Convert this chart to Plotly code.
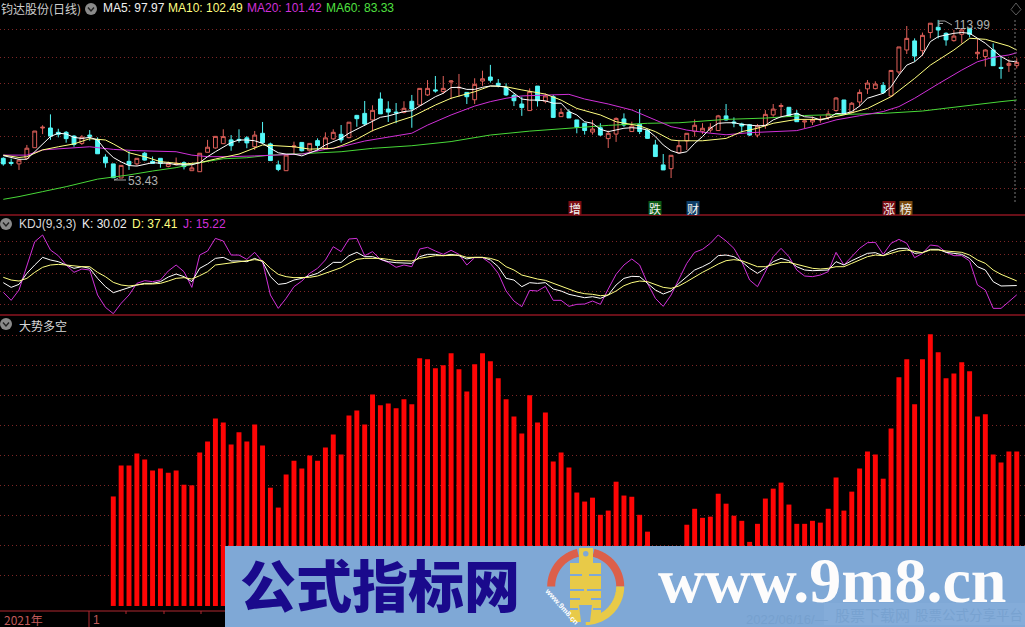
import math
import plotly.graph_objects as go

# ---------- price panel ----------
open_read = [61.3,59.7,59.1,61.3,65.5,73.3,73.3,71.6,71.6,70.1,
67.2,70.5,68.8,61.8,59.1,53.5,60.1,59.1,63.3,60.1,
61.3,58.1,58.8,59.6,56.4,56,63.7,65.4,67.1,68.6,
68.8,69.4,65.9,71.2,67,58.7,56.4,65.8,67.6,64.3,
68.3,65.3,69,70.8,69.5,78.3,79.1,76.5,84.8,80.8,
79.6,79.5,83.9,82.4,86.4,88.4,87.7,91.5,89.2,87.4,
84.5,91.9,93.5,91,89.3,86.2,82.8,80.2,89.9,83.9,
85.7,77.8,79.6,76.5,75.2,71.7,73.4,69.1,70.9,76.9,
71.9,74.8,72.3,66.6,58.7,57.2,63.5,68.2,72,72,
72.5,72.3,78.1,75.7,74.9,74.6,70.5,74.4,78.5,81.8,
81.5,79.1,75.7,75.7,76.5,77.5,80.2,84.4,79.4,83.6,
88.8,88.9,90.2,86,95.5,104.2,107.8,103.9,111.1,113.2,
110.8,107.9,110.4,112.8,102.7,101.6,104.2,97.3,98.1,98]
close_read = [59.1,59.3,60.6,65.3,72.1,73.6,70.1,70.8,69.1,66.8,
69.7,70,63.1,59.5,53.6,58.5,58.8,61.3,60.6,59.3,
59.3,59.3,59.3,58,57.5,63.3,65.7,70,69.9,66.3,
68.4,67.4,70.5,67.5,60.4,56.9,62.6,66.2,64.3,67.2,
66.4,69.4,71.6,68.6,75.6,77,74.9,80.3,78.9,79.6,
79.3,81.1,80.8,89,89,88,89,91.9,89.4,85.7,
90.6,92.8,92.2,90.2,86.4,84.1,81.4,87.7,84.1,86,
77.5,79.5,77.3,73.6,72.3,72.9,70.5,71.2,77.1,74.5,
74.1,71.9,69.2,62,56.7,62.5,66.3,71.2,74.4,73.2,
73.6,78.1,76.5,75.3,74.1,70.5,74.1,78.7,80.8,82.2,
78.1,75.8,76.1,76.7,76.7,78.9,85.2,79.1,83.1,87.4,
91.1,90.7,87.3,96.1,105.4,108.8,101.8,110,114.8,112.1,
108.2,109.7,112.1,110.4,103.3,104.2,98,96.9,98.9,99.3]
high_read = [61.7,61.2,60.9,66.6,72.1,74.4,78.7,73,72.1,70.5,
70.5,72.5,69.6,62.9,59.1,58.5,64.1,61.3,63.8,62,
61.3,60,61.6,60.1,58.7,63.3,68.6,70,72.8,70.5,
72.8,70.1,72.1,75.7,67.5,60.4,63,67.9,67.6,67.2,
69.2,71.6,72.8,74.5,75.6,78.5,84,82.3,87.4,83.9,
83.2,83.9,86.4,89,92.3,93.9,93.9,92.3,94.7,87.4,
93,96,98.3,92.7,91,87,85.7,89,89.9,87,
86.4,81.1,80.7,76.5,75.2,76.5,75.2,72.3,77.5,79.1,
75.8,80.8,72.8,68.6,63,62.5,68.6,71.2,76.7,75.2,
75.2,78.5,82.8,77.5,75.4,74.9,74.9,80.4,82.8,83.1,
81.5,80.4,76.2,77.8,78.1,80.2,85.5,84.4,83.6,88.6,
92.3,91.8,91.5,96.1,105.4,113.7,108.8,111.1,114.8,116.1,
111.2,112.1,112.8,112.8,108.8,104.5,106.8,101.6,100.5,100.9]
low_read = [58.4,58.4,56.7,60.9,65.5,70.9,68.6,69.6,67.5,65.9,
66.6,68.3,63.1,57.6,53.5,53.5,56.7,58.3,60.4,59.1,
57.6,57.7,58.5,56.9,56.4,56,63.7,65.1,67,64.3,
67.5,65.3,64.6,67,60.4,56.2,56.4,62.6,64,63.9,
64.3,65,68.6,67.5,69.2,73.8,74.1,71.9,78.9,75.7,
75.2,79.1,73.4,82.2,86,87.3,86.8,84.7,85.7,82.8,
82.8,90,91.3,89.4,86,82,78.1,80.2,81.8,83.1,
77.3,77.8,77.3,71.2,70.7,70.7,70.1,65.4,67.8,73.8,
71.9,70.9,69.1,62,56.7,53.5,63.3,64.6,69.9,70.9,
71.5,72.3,76.2,73.6,71.5,70.1,69.6,73,77.8,77.8,
78.1,75.7,73.2,74.5,75.4,76.5,79.8,78.9,79.1,81.8,
86.8,88.6,86.8,85.7,94.7,102.6,99.6,101.8,108.8,108.8,
105.9,107.5,106.8,109.2,100.5,97.6,97.9,92.8,95.5,96.9]

ma5 = [62.0,61.3,60.6,60.6,63.5,66.7,69.3,70.6,70.3,69.0,68.6,69.0,68.0,64.2,61.3,59.6,58.2,58.0,58.7,59.3,59.1,59.1,58.5,58.4,58.5,59.3,61.6,63.5,65.4,67.0,68.0,68.0,67.7,66.7,64.8,63.1,62.6,62.6,61.9,62.9,64.2,66.1,67.4,
68.6,70.6,72.1,73.7,75.0,76.7,77.2,78.2,78.9,79.2,81.0,82.7,84.6,85.9,88.1,88.2,87.4,87.4,88.2,88.7,88.7,88.2,85.9,83.7,83.3,83.3,83.0,82.1,82.1,78.9,77.6,75.0,74.4,72.1,71.2,71.8,72.5,72.7,72.5,71.8,69.3,66.1,63.9,62.9,
63.5,66.7,69.3,72.5,74.4,74.6,74.6,74.0,73.6,73.4,73.6,75.7,76.9,77.6,78.2,76.9,76.7,75.7,76.3,78.2,78.0,78.9,81.0,84.0,84.9,85.9,88.4,92.9,96.7,98.0,100.6,105.7,107.6,108.3,108.9,109.2,108.9,107.0,105.1,102.5,100.0,98.3,97.97]
ma10_idx = [0,2,3,5,7,9,11,13,14,16,18,20,23,25,27,30,33,35,37,39,42,43,45,47,50,52,55,57,60,62,64,66,69,71,73,76,78,81,83,85,86,89,92,94,96,98,101,104,107,110,113,116,118,121,123,125,128,129]
ma10 = [62.2,61.3,61.6,64.2,65.4,66.5,68.5,68,66.5,63.1,61.6,59.7,58.8,59.3,60.7,62.6,66.1,65.7,65.4,64.5,64.8,65.8,68.3,71.6,75,76.9,81.4,84,86.5,88.7,88.4,87.2,85.6,83.3,80.1,77.6,75,73.4,71.2,68,67.7,67.7,68.6,71.2,72.5,74.4,75.9,75.9,77.6,80.1,84.6,91.6,96.7,102.5,107,106.6,104,102.49]
ma20_idx = [0,3,5,8,11,14,17,22,24,26,29,32,35,38,41,43,46,49,52,54,57,60,62,64,66,69,72,74,77,80,83,85,86,87,90,92,95,98,101,103,106,109,112,114,116,119,122,124,126,128,129]
ma20 = [62.2,62.2,64.2,64.8,65.4,64.4,63.9,63.5,62.2,61.6,61.6,61.9,62.2,62.6,64.4,65.4,67.6,69.0,70.6,73.7,77.6,81.0,82.7,84.0,84.9,85.2,85.5,83.7,81.8,79.5,75.7,73.1,72.5,71.8,70.6,70.0,70.8,71.3,71.6,73.1,75.7,77.3,78.9,80.8,84.0,89.5,94.8,98.0,99.7,100.6,101.42]
ma60_idx = [0,2,5,8,12,14,16,19,22,25,28,31,34,37,40,43,47,52,57,62,67,72,77,82,86,92,97,102,107,112,117,122,127,129]
ma60 = [45.25,46.3,48.2,50.1,53.0,53.7,54.6,56.1,57.4,59.3,60.8,61.2,62.2,62.6,63.1,63.5,64.8,65.8,67.4,69.9,71.4,72.5,73.6,74.4,74.6,75.9,76.4,77.4,77.8,78.2,79.1,81.0,82.7,83.33]

# ---------- KDJ panel ----------
kdj_k = [34.6,27.1,31.9,49.5,62.8,75,70.8,68.1,62.8,57.5,60.1,57.5,41.5,28.2,18.6,22.9,26.6,30.9,33.5,33.5,36.2,43.6,48.4,44.2,36.2,57.5,64.4,73.4,75,69.2,69.2,68.1,73.4,68.1,44.2,31.9,33.5,38.8,41.5,45.2,49.5,57.5,67,67,77.7,83,76.1,76.1,71.8,68.1,66.5,66.5,65.4,76.1,79.8,79.8,77.7,79.8,77.7,72.4,75,75,70.8,60.1,41.5,
38.8,28.2,34.6,33.5,34.6,24.5,21.3,16,13.3,10.6,12.2,9.6,14.9,30.9,41.5,44.7,44.2,33.5,22.9,16.5,21.3,33.5,44.2,54.8,60.1,66.5,77.7,78.7,76.1,68.1,57.5,49.5,57.5,68.1,73.4,69.7,60.1,54.8,53.7,53.7,54.8,68.1,62.8,69.7,76.1,81.4,82.5,77.7,85.1,89.4,89.4,81.4,82.5,87.8,87.8,83,81.4,79.8,73.4,60.1,54.8,36.2,29.3,29.3,30.02]
kdj_d = [43.1,38.8,37.2,41.5,51.1,59.1,62.8,63.8,62.8,61.2,60.1,60.1,51.1,44.2,35.1,30.9,29.3,30.9,32.5,32.5,33.5,37.2,41.5,42.6,40.4,45.8,52.1,62.8,64.4,66.5,68.1,69.7,71.3,69.7,57.5,47.9,44.2,42.6,42.6,43.1,45.2,49.5,54.8,58.5,65.4,71.8,73.4,73.4,73.4,71.8,69.7,69.7,69.2,73.4,76.1,77.7,77.7,78.7,78.7,75,75,75,73.4,69.7,60.1,
54.8,46.8,43.1,40.4,38.3,33.5,29.8,24.5,19.7,17,16,13.8,14.9,21.3,29.8,34.6,37.2,36.2,31.9,27.1,25.5,29.3,36.2,44.2,51.1,57.5,64.4,69.7,71.3,69.7,64.4,60.1,60.1,63.8,67,67,63.8,60.1,57.5,56.4,57.5,60.1,60.1,65.4,70.8,76.1,78.7,77.7,81.4,85.1,86.7,84.1,82.5,86.7,86.7,85.1,84.1,83,78.7,70.8,65.4,54.8,47.9,42.6,37.41]
kdj_j = [19.2,6.4,22.9,60.1,100,110.7,86.7,77.7,62.8,51.1,56.4,54.8,14.9,-4.8,-14.9,1.6,14.9,33.5,37.8,36.2,38.8,53.2,62.8,52.1,27.1,78.7,85.1,105.3,101.1,78.7,78.7,71.8,83,68.1,14.9,-6.4,9.6,28.2,37.2,49.5,57.5,70.8,92,84.1,104.3,105.3,77.7,84.1,71.8,67,59.1,62.8,60.1,88.3,91,85.1,79.8,86.2,79.8,62.8,74.5,74.5,65.4,49.5,21.3,
5.3,-3.7,22.3,21.3,28.7,6.4,6.4,-3.2,0,0.5,5.3,0,24.5,47.9,62.8,72.4,62.8,33.5,9.6,-3.2,14.9,41.5,65.4,83,87.8,97.4,110.7,101.1,89.4,68.1,38.8,28.2,52.1,76.1,89.4,76.1,54.8,45.2,44.2,46.8,52.1,83,62.8,76.1,89.4,98.4,99,79.8,97.4,103.7,97.4,74.5,81.4,94.7,93.1,83,77.7,77.7,69.2,30.9,22.9,-6.4,-6.4,4.3,15.22]

# ---------- long/short strength bars, starting at candle 14 ----------
strength = [36.4,46.7,46.7,50.7,48.7,45,45.7,44.3,45,40.3,40.1,51,54.7,62.3,61,53.7,57.7,54.7,60.3,53.3,39.3,32.7,43.7,48.3,45.7,50,48.3,52.7,57,50.3,63.3,65,60.3,70.3,66.7,67.3,65.7,68.7,67,82.3,82,79,80,84,78.7,71.3,80.3,84,81.3,75.7,68.7,
63,57.3,70,61,64.3,48,51,46,37.7,34.7,36,30.3,31.7,41.3,36.7,36.3,30.3,24.7,None,None,None,None,27,32.3,29.3,29.7,37.3,34,30,28.3,21.3,27.3,35.7,39,41,33.7,27.3,27.3,28.3,27.7,32.3,42.7,31.7,38,45.7,51.3,50.3,42.3,59,76,82,67,82,90.3,84.3,75.7,77.3,81,78,63,63.7,50.3,47.7,51.3,51.3]

price_grid = [110.2, 99.7, 89.7, 79.7, 69.5, 59.4, 49.5]
kdj_grid = [100, 80, 50, 20, 0]
strength_grid = [90, 80, 70, 60, 50, 40, 30, 20, 10]

# the first reading scale of the candle arrays is re-based onto the labelled price scale
rebase = lambda vals: [round(1.62 + 0.9682 * v, 2) for v in vals]
open_, high, low, close = map(rebase, (open_read, high_read, low_read, close_read))
idx = list(range(len(close)))
assert all(len(a) == 130 for a in (open_, high, low, close, ma5, kdj_k, kdj_d, kdj_j))
assert len(ma10) == len(ma10_idx) and len(ma20) == len(ma20_idx) and len(ma60) == len(ma60_idx)
assert len(strength) == 116

W, H = 1025, 627
BG = "#000000"
SEP = "#8c1420"
GRID = "#7d2626"
WHITE = "#f0f0f0"
YEL = "#ffff80"
MAG = "#d030d8"
GRN = "#50e040"
UP = "#e0605a"
DN = "#54f8f8"
FONT = "Liberation Sans, Noto Sans CJK SC, sans-serif"
CJK = "Noto Sans CJK SC, sans-serif"

fx = lambda x: x / W
fy = lambda y: 1 - y / H

fig = go.Figure()
fig.add_trace(go.Candlestick(x=idx, open=open_, high=high, low=low, close=close, xaxis="x", yaxis="y",
    increasing=dict(line=dict(color=UP, width=1), fillcolor=BG),
    decreasing=dict(line=dict(color=DN, width=1), fillcolor=DN),
    whiskerwidth=0, hoverinfo="skip", showlegend=False))
fig.add_trace(go.Scatter(x=ma60_idx, y=ma60, mode="lines", line=dict(color="#48d838", width=1), xaxis="x", yaxis="y"))
fig.add_trace(go.Scatter(x=ma20_idx, y=ma20, mode="lines", line=dict(color=MAG, width=1), xaxis="x", yaxis="y"))
fig.add_trace(go.Scatter(x=ma10_idx, y=ma10, mode="lines", line=dict(color=YEL, width=1), xaxis="x", yaxis="y"))
fig.add_trace(go.Scatter(x=idx, y=ma5, mode="lines", line=dict(color="#ffffff", width=1), xaxis="x", yaxis="y"))

fig.add_trace(go.Scatter(x=idx, y=kdj_j, mode="lines", line=dict(color=MAG, width=1), xaxis="x2", yaxis="y2"))
fig.add_trace(go.Scatter(x=idx, y=kdj_k, mode="lines", line=dict(color="#ffffff", width=1), xaxis="x2", yaxis="y2"))
fig.add_trace(go.Scatter(x=idx, y=kdj_d, mode="lines", line=dict(color=YEL, width=1), xaxis="x2", yaxis="y2"))

fig.add_trace(go.Bar(x=idx[14:], y=strength, width=0.63, marker=dict(color="#ff0505", line=dict(width=0)),
                     xaxis="x3", yaxis="y3"))

shapes, notes = [], []

def line(x0, y0, x1, y1, color, width=1, dash=None):
    shapes.append(dict(type="line", xref="paper", yref="paper", x0=fx(x0), y0=fy(y0), x1=fx(x1), y1=fy(y1),
                       line=dict(color=color, width=width, dash=dash), layer="above"))

def rect(x0, y0, x1, y1, color):
    shapes.append(dict(type="rect", xref="paper", yref="paper", x0=fx(x0), y0=fy(y0), x1=fx(x1), y1=fy(y1),
                       fillcolor=color, line=dict(width=0), layer="above"))

def path(pts, stroke=None, width=1, fill=None, close=False):
    d = "M " + " L ".join(f"{fx(x):.5f},{fy(y):.5f}" for x, y in pts) + (" Z" if close else "")
    shapes.append(dict(type="path", xref="paper", yref="paper", path=d, layer="above", fillcolor=fill,
                       line=dict(color=stroke, width=width) if stroke else dict(width=0)))

def text(x, y, s, color=WHITE, size=12, anchor="left", font=FONT, **kw):
    notes.append(dict(xref="paper", yref="paper", x=fx(x), y=fy(y), text=s, showarrow=False, xanchor=anchor,
                      yanchor="middle", font=dict(color=color, size=size, family=font), borderpad=0, **kw))

def icon(cx, cy):
    shapes.append(dict(type="circle", xref="paper", yref="paper", x0=fx(cx-6), x1=fx(cx+6), y0=fy(cy-6), y1=fy(cy+6),
                       fillcolor="#8a8a8a", line=dict(width=0), layer="above"))
    path([(cx-3, cy-1.5), (cx, cy+2), (cx+3, cy-1.5)], stroke="#222222", width=1.4)

# panel separators and the date strip
line(0, 215, W, 215, SEP, 1.5)
line(0, 315, W, 315, SEP, 1.5)
line(0, 611, 225, 611, "#b02830", 1.2)
line(89, 611, 89, 627, "#b02830", 1)
for tx in (126, 164, 201):
    line(tx, 611, tx, 614, "#b02830", 1)
text(3, 619.5, "2021年", "#c05a5a", 12, font=CJK)
text(92, 619.5, "1", "#c05a5a", 12)

# header rows
text(0, 9, "钧达股份(日线)", "#cfcfcf", 12, font=CJK)
icon(91, 9)
text(102, 8, "MA5: 97.97", WHITE)
text(167, 8, "MA10: 102.49", YEL)
text(246, 8, "MA20: 101.42", MAG)
text(325, 8, "MA60: 83.33", GRN)
icon(6, 224)
text(18, 224, "KDJ(9,3,3)", "#d8d8d8")
text(81, 224, "K: 30.02", WHITE)
text(131, 224, "D: 37.41", YEL)
text(182, 224, "J: 15.22", MAG)
icon(6, 324)
text(18, 325, "大势多空", "#d8d8d8", 12, font=CJK)

# extreme labels
text(127, 181, "53.43", "#b0b0b0", 12)
path([(118, 178.5), (114, 180), (126, 180)], stroke="#a0a0a0", width=1)
text(953, 25, "113.99", "#b0b0b0", 12)
path([(939, 26), (939, 21), (945, 21), (952, 25)], stroke="#a0a0a0", width=1)
line(939, 23.5, 943, 23.5, "#a0a0a0", 1)

# crosshair-like guide and the diamond
line(1015, 20, 1015, 203, "#7a7a7a", 1, "2px,2px")
path([(1016, 3), (1021, 9.5), (1016, 15), (1011, 9.5)], stroke="#5c5c5c", width=1, close=True)

# news tags
for tx, s, bg in ((575, "增", "#7a0c12"), (655, "跌", "#0d5c16"), (693, "财", "#0d3c66"),
                  (889, "涨", "#7a0c12"), (906, "榜", "#7a4a10")):
    rect(tx-6.5, 201, tx+6.5, 215, bg)
    text(tx, 208, s, "#f2f2f2", 12, "center", CJK)

# banner
BLUE = "#7fa8d6"
rect(225, 546, W, 627, BLUE)
rect(824, 603, W, 625, "#84acd9")
text(745, 619, "2022/06/16/—", "#76a0ce", 13)
text(834, 614, "股票下载网", "#78a2d0", 15, font=CJK)
text(914, 614, "股票公式分享平台", "#78a2d0", 13.5, font=CJK)
notes.append(dict(xref="paper", yref="paper", x=fx(380), y=fy(582), text="公式指标网", showarrow=False,
                  xanchor="center", yanchor="middle",
                  font=dict(color="#1a0a8c", size=56, family=CJK, weight=900)))
notes.append(dict(xref="paper", yref="paper", x=fx(832), y=fy(580), text="www.9m8.cn", showarrow=False,
                  xanchor="center", yanchor="middle",
                  font=dict(color="#fdfcfc", size=64, family="Liberation Serif, serif", weight=700)))

# logo
cx, cy, r = 585.7, 586.5, 34.5
def arc(a0, a1, color):
    steps = 40
    path([(cx + r*math.cos(math.radians(a0 + (a1-a0)*k/steps)), cy - r*math.sin(math.radians(a0 + (a1-a0)*k/steps)))
          for k in range(steps+1)], stroke=color, width=8)
arc(180, 103, "#dc5f4a")
arc(77, 0, "#dc5f4a")
arc(0, -90, "#e8ca48")
GOLD = "#e8ca48"
rect(579, 548, 593, 563, GOLD)
rect(570, 563, 601, 596, GOLD)
rect(570, 596, 601, 622, GOLD)
path([(581, 622), (590, 622), (592, 605), (579, 605)], fill=BLUE, close=True)
shapes.append(dict(type="circle", xref="paper", yref="paper", x0=fx(583), x1=fx(588.5), y0=fy(551), y1=fy(556.5),
                   fillcolor=BLUE, line=dict(width=0), layer="above"))
for y0, x0, x1 in ((574, 570, 582), (574, 589, 601), (589, 570, 584), (589, 587, 601), (598, 570, 580), (598, 591, 601), (608, 570, 578), (608, 593, 601)):
    rect(x0, y0, x1, y0+2, BLUE)
notes.append(dict(xref="paper", yref="paper", x=fx(562), y=fy(606), text="www.9m8.cn", showarrow=False, textangle=48,
                  xanchor="center", yanchor="middle",
                  font=dict(color="#ffffff", size=7.5, family="Liberation Sans", weight=700)))

xr = [-0.42, 130.05]
grid = dict(showgrid=True, griddash="1px,3px", gridcolor=GRID, gridwidth=1, zeroline=False,
            showticklabels=False, ticks="", showline=False, fixedrange=True)
plainx = dict(range=xr, showgrid=False, zeroline=False, showticklabels=False, ticks="", showline=False,
              fixedrange=True, rangeslider=dict(visible=False))
fig.update_layout(
    width=W, height=H, margin=dict(l=0, r=0, t=0, b=0), paper_bgcolor=BG, plot_bgcolor=BG,
    showlegend=False, boxgap=0.3, hovermode=False,
    xaxis={**plainx, "anchor": "y", "domain": [0, 1]},
    xaxis2={**plainx, "anchor": "y2", "domain": [0, 1]},
    xaxis3={**plainx, "anchor": "y3", "domain": [0, 1]},
    yaxis={**grid, "domain": [fy(215), 1], "range": [39.24, 121.67], "tickvals": price_grid, "anchor": "x"},
    yaxis2={**grid, "domain": [fy(315), fy(215)], "range": [-17, 142.6], "tickvals": kdj_grid, "anchor": "x2"},
    yaxis3={**grid, "domain": [fy(611), fy(315)], "range": [-1.67, 96.7], "tickvals": strength_grid, "anchor": "x3"},
    shapes=shapes, annotations=notes,
)
fig.write_html("out.html", config=dict(displayModeBar=False),
               post_script="document.body.style.margin='0';document.body.style.overflow='hidden';")
